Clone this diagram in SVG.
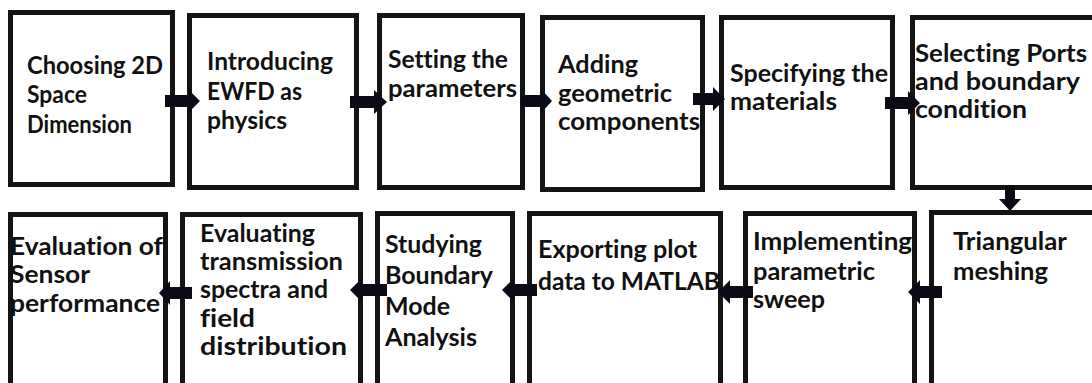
<svg xmlns="http://www.w3.org/2000/svg" width="1092" height="383" viewBox="0 0 1092 383">
  <defs>
    <style>
      .box { fill: #ffffff; stroke: #141414; stroke-width: 5; }
      .lbl { font-family: Lato, "Liberation Sans", Arial, sans-serif; font-weight: bold; font-size: 25px; font-variant-ligatures: none; fill: #111111; }
      .arr { fill: #0b0b16; }
    </style>
  </defs>
  <rect width="1092" height="383" fill="#ffffff"/>

  <!-- row 1 -->
  <g id="n1">
    <rect class="box" x="10.5" y="12.5" width="162" height="172"/>
    <text class="lbl"><tspan x="27" y="74" textLength="136" lengthAdjust="spacingAndGlyphs">Choosing 2D</tspan><tspan x="27" y="103" textLength="60" lengthAdjust="spacingAndGlyphs">Space</tspan><tspan x="27" y="133" textLength="105" lengthAdjust="spacingAndGlyphs">Dimension</tspan></text>
  </g>
  <g id="n2">
    <rect class="box" x="189.5" y="15.5" width="167" height="172"/>
    <text class="lbl"><tspan x="207" y="70" textLength="126" lengthAdjust="spacingAndGlyphs">Introducing</tspan><tspan x="207" y="100" textLength="95" lengthAdjust="spacingAndGlyphs">EWFD as</tspan><tspan x="207" y="129" textLength="80" lengthAdjust="spacingAndGlyphs">physics</tspan></text>
  </g>
  <g id="n3">
    <rect class="box" x="379.5" y="15.5" width="143" height="172"/>
    <text class="lbl"><tspan x="388" y="68" textLength="120" lengthAdjust="spacingAndGlyphs">Setting the</tspan><tspan x="388" y="97" textLength="129" lengthAdjust="spacingAndGlyphs">parameters</tspan></text>
  </g>
  <g id="n4">
    <rect class="box" x="542.5" y="17.5" width="160" height="172"/>
    <text class="lbl"><tspan x="558" y="73" textLength="80" lengthAdjust="spacingAndGlyphs">Adding</tspan><tspan x="558" y="102" textLength="114" lengthAdjust="spacingAndGlyphs">geometric</tspan><tspan x="558" y="130" textLength="142" lengthAdjust="spacingAndGlyphs">components</tspan></text>
  </g>
  <g id="n5">
    <rect class="box" x="721.5" y="17.5" width="171" height="170"/>
    <text class="lbl"><tspan x="730" y="82" textLength="158" lengthAdjust="spacingAndGlyphs">Specifying the</tspan><tspan x="730" y="110" textLength="107" lengthAdjust="spacingAndGlyphs">materials</tspan></text>
  </g>
  <g id="n6">
    <rect class="box" x="912.5" y="17.5" width="190" height="170"/>
    <text class="lbl"><tspan x="915" y="62" textLength="172" lengthAdjust="spacingAndGlyphs">Selecting Ports</tspan><tspan x="915" y="90" textLength="165" lengthAdjust="spacingAndGlyphs">and boundary</tspan><tspan x="915" y="118" textLength="112" lengthAdjust="spacingAndGlyphs">condition</tspan></text>
  </g>

  <!-- row 2 -->
  <g id="n7">
    <rect class="box" x="10.5" y="214.5" width="155" height="190"/>
    <text class="lbl"><tspan x="10" y="255" textLength="153" lengthAdjust="spacingAndGlyphs">Evaluation of</tspan><tspan x="10" y="283" textLength="80" lengthAdjust="spacingAndGlyphs">Sensor</tspan><tspan x="10" y="312" textLength="150" lengthAdjust="spacingAndGlyphs">performance</tspan></text>
  </g>
  <g id="n8">
    <rect class="box" x="182.5" y="214.5" width="178" height="190"/>
    <text class="lbl"><tspan x="200" y="242" textLength="115" lengthAdjust="spacingAndGlyphs">Evaluating</tspan><tspan x="200" y="270" textLength="143" lengthAdjust="spacingAndGlyphs">transmission</tspan><tspan x="200" y="298" textLength="128" lengthAdjust="spacingAndGlyphs">spectra and</tspan><tspan x="200" y="327" textLength="55" lengthAdjust="spacingAndGlyphs">field</tspan><tspan x="200" y="355" textLength="147" lengthAdjust="spacingAndGlyphs">distribution</tspan></text>
  </g>
  <g id="n9">
    <rect class="box" x="377.5" y="213.5" width="135" height="190"/>
    <text class="lbl"><tspan x="385" y="253" textLength="97" lengthAdjust="spacingAndGlyphs">Studying</tspan><tspan x="385" y="284" textLength="108" lengthAdjust="spacingAndGlyphs">Boundary</tspan><tspan x="385" y="315" textLength="65" lengthAdjust="spacingAndGlyphs">Mode</tspan><tspan x="385" y="346" textLength="92" lengthAdjust="spacingAndGlyphs">Analysis</tspan></text>
  </g>
  <g id="n10">
    <rect class="box" x="529.5" y="213.5" width="191" height="190"/>
    <text class="lbl"><tspan x="538" y="258" textLength="159" lengthAdjust="spacingAndGlyphs">Exporting plot</tspan><tspan x="538" y="290" textLength="182" lengthAdjust="spacingAndGlyphs">data to MATLAB</tspan></text>
  </g>
  <g id="n11">
    <rect class="box" x="745.5" y="213.5" width="169" height="190"/>
    <text class="lbl"><tspan x="753" y="250" textLength="159" lengthAdjust="spacingAndGlyphs">Implementing</tspan><tspan x="753" y="280" textLength="122" lengthAdjust="spacingAndGlyphs">parametric</tspan><tspan x="753" y="308" textLength="72" lengthAdjust="spacingAndGlyphs">sweep</tspan></text>
  </g>
  <g id="n12">
    <rect class="box" x="931.5" y="212.5" width="170" height="190"/>
    <text class="lbl"><tspan x="953" y="250" textLength="114" lengthAdjust="spacingAndGlyphs">Triangular</tspan><tspan x="953" y="280" textLength="95" lengthAdjust="spacingAndGlyphs">meshing</tspan></text>
  </g>

  <!-- connectors: block arrows drawn over the box borders -->
  <g id="connectors">
    <polygon class="arr" points="165,95 189,95 189,90 200,101 189,112 189,107 165,107"/>
    <polygon class="arr" points="350,96 374,96 374,90 387,102 374,114 374,108 350,108"/>
    <polygon class="arr" points="521,95 541,95 541,89 552,101 541,113 541,107 521,107"/>
    <polygon class="arr" points="693,93 713,93 713,87 725,99 713,111 713,105 693,105"/>
    <polygon class="arr" points="885,97 908,97 908,91 920,103 908,115 908,109 885,109"/>
    <polygon class="arr" points="1005,185 1015,185 1015,199 1021,199 1010,211 999,199 1005,199"/>
    <polygon class="arr" points="942,286 920,286 920,280 908,292 920,304 920,298 942,298"/>
    <polygon class="arr" points="753,286 730,286 730,280 718,292 730,304 730,298 753,298"/>
    <polygon class="arr" points="537,284 514,284 514,278 502,290 514,302 514,296 537,296"/>
    <polygon class="arr" points="387,284 362,284 362,278 350,290 362,302 362,296 387,296"/>
    <polygon class="arr" points="192,287 170,287 170,281 159,293 170,305 170,299 192,299"/>
  </g>
</svg>
